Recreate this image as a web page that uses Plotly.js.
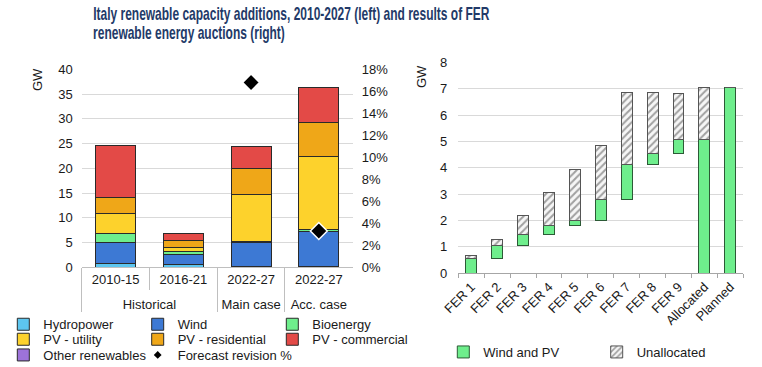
<!DOCTYPE html>
<html>
<head>
<meta charset="utf-8">
<script src="https://cdn.plot.ly/plotly-3.0.1.min.js"></script>
<style>html,body{margin:0;padding:0;background:#fff;}#chart{width:762px;height:367px;}</style>
</head>
<body>
<div id="chart"></div>
<script>
// ---- Left chart data (GW) ----
const groups = ['Historical', 'Historical', 'Main case', 'Acc. case'];
const periods = ['2010-15', '2016-21', '2022-27', '2022-27'];
const hydropower = [0.8, 0.5, 0.1, 0.1];
const wind = [4.2, 2.1, 4.9, 7.2];
const bioenergy = [1.9, 0.6, 0.3, 0.25];
const pvUtility = [3.9, 0.8, 9.45, 14.85];
const pvResidential = [3.3, 1.45, 5.15, 6.8];
const pvCommercial = [10.5, 1.4, 4.5, 7.1];
const otherRenewables = [0.1, 0.05, 0.05, 0.05];
const forecastRevision = [null, null, 16.8, 3.3]; // %

// ---- Right chart data (GW) ----
const auctions = ['FER 1', 'FER 2', 'FER 3', 'FER 4', 'FER 5', 'FER 6', 'FER 7', 'FER 8', 'FER 9', 'Allocated', 'Planned'];
const windPvBase = [0, 0.57, 1.05, 1.48, 1.83, 2.02, 2.78, 4.13, 4.55, 0, 0];
const windPv = [0.57, 0.48, 0.43, 0.35, 0.19, 0.76, 1.33, 0.42, 0.51, 5.06, 7.04];
const unallocated = [0.09, 0.25, 0.71, 1.25, 1.91, 2.07, 2.75, 2.31, 1.75, 1.98, 0];
const unallocatedBase = windPvBase.map((b, i) => b + windPv[i]);

const titleLines = ['Italy renewable capacity additions, 2010-2027 (left) and results of FER',
                    'renewable energy auctions (right)'];

const W = 762, H = 367;
const px = v => v / W;
const py = v => 1 - v / H;
const FONT = 'Liberation Sans, Arial, sans-serif';
const TXT = '#1a1a1a';
const outline = {color: '#2a2a2a', width: 1};

const xMulti = [groups, periods];
function stackTrace(name, vals, color, legend) {
  return {type: 'bar', name: name, x: xMulti, y: vals, xaxis: 'x', yaxis: 'y',
    marker: {color: color, line: outline}, legend: legend, hoverinfo: 'skip'};
}

const traces = [
  stackTrace('Hydropower', hydropower, '#5dc6ef', 'legend'),
  stackTrace('Wind', wind, '#3d79d4', 'legend2'),
  stackTrace('Bioenergy', bioenergy, '#6eee8c', 'legend3'),
  stackTrace('PV - utility', pvUtility, '#fdd22c', 'legend4'),
  stackTrace('PV - residential', pvResidential, '#efa718', 'legend5'),
  stackTrace('PV - commercial', pvCommercial, '#e34a47', 'legend6'),
  stackTrace('Other renewables', otherRenewables, '#9d73d9', 'legend7'),
  {type: 'scatter', mode: 'markers', name: 'Forecast revision %', x: xMulti, y: forecastRevision,
    xaxis: 'x', yaxis: 'y2', marker: {symbol: 'diamond', size: 13, color: '#000', line: {color: '#fff', width: 1.5}},
    showlegend: false, hoverinfo: 'skip'},
  {type: 'scatter', mode: 'markers', name: 'Forecast revision %', x: [null], y: [null],
    xaxis: 'x', yaxis: 'y2', marker: {symbol: 'diamond', size: 6, color: '#000'}, legend: 'legend8', hoverinfo: 'skip'},
  {type: 'bar', name: 'Wind and PV', x: auctions, y: windPv, base: windPvBase, width: 0.42,
    xaxis: 'x2', yaxis: 'y3', marker: {color: '#6eee8c', line: {color: '#2c5a36', width: 1}}, legend: 'legend9', hoverinfo: 'skip'},
  {type: 'bar', name: 'Unallocated', x: auctions, y: unallocated, base: unallocatedBase, width: 0.42,
    xaxis: 'x2', yaxis: 'y3', marker: {color: '#f2f2f2', line: {color: '#555', width: 1},
      pattern: {shape: '/', fgcolor: '#a0a0a0', bgcolor: '#f6f6f6', size: 5, solidity: 0.4}},
    legend: 'legend10', hoverinfo: 'skip'}
];

const tickFont = {family: FONT, size: 13, color: TXT};
function leg(textX, rowY) {
  return {orientation: 'v', xanchor: 'left', yanchor: 'middle', x: px(textX - 40), y: py(rowY),
    font: {family: FONT, size: 13, color: TXT}, bgcolor: 'rgba(0,0,0,0)', itemclick: false};
}
const colX = [43.3, 177.7, 312.3];
const rowY = [324.3, 339.3, 355];

const layout = {
  width: W, height: H,
  margin: {l: 0, r: 0, t: 0, b: 0, autoexpand: false},
  paper_bgcolor: '#fff', plot_bgcolor: '#fff',
  font: {family: FONT, size: 13, color: TXT},
  showlegend: true,
  barmode: 'stack', bargap: 0.41,
  xaxis: {domain: [px(81.7), px(352.7)], anchor: 'y', type: 'multicategory', tickfont: tickFont, automargin: false,
    showline: true, linecolor: '#bfbfbf', linewidth: 1, ticks: 'outside', tickson: 'boundaries', ticklen: 22, tickcolor: '#bfbfbf',
    showdividers: true, dividercolor: '#bfbfbf', dividerwidth: 1, showgrid: false},
  yaxis: {domain: [py(267.3), py(69.3)], anchor: 'x', range: [0, 40], dtick: 5, tickfont: tickFont, automargin: false,
    showgrid: true, gridcolor: '#d9d9d9', gridwidth: 1, zeroline: false, showline: false, ticks: '', ticklabelstandoff: 8},
  yaxis2: {overlaying: 'y', side: 'right', anchor: 'x', range: [0, 18], dtick: 2, ticksuffix: '%', tickfont: tickFont, automargin: false,
    showgrid: false, zeroline: false, showline: false, ticks: '', ticklabelstandoff: 8},
  xaxis2: {domain: [px(458.3), px(743.3)], anchor: 'y3', type: 'category', tickfont: tickFont, tickangle: -45, automargin: false,
    showline: true, linecolor: '#a6a6a6', ticks: 'outside', tickson: 'boundaries', ticklen: 4, tickcolor: '#a6a6a6', showgrid: false},
  yaxis3: {domain: [py(273.3), py(62.3)], anchor: 'x2', range: [0, 8], dtick: 1, tickfont: tickFont, automargin: false,
    showgrid: true, gridcolor: '#d9d9d9', zeroline: false, showline: false, ticks: '', ticklabelstandoff: 10},
  legend: leg(colX[0], rowY[0]),
  legend2: leg(colX[1], rowY[0]),
  legend3: leg(colX[2], rowY[0]),
  legend4: leg(colX[0], rowY[1]),
  legend5: leg(colX[1], rowY[1]),
  legend6: leg(colX[2], rowY[1]),
  legend7: leg(colX[0], rowY[2]),
  legend8: leg(colX[1], rowY[2]),
  legend9: leg(483.3, 352),
  legend10: leg(636.7, 352),
  annotations: [
    {text: titleLines[0], xref: 'paper', yref: 'paper', x: px(90.7), y: py(13.5), showarrow: false,
      xanchor: 'left', yanchor: 'middle', font: {family: FONT, size: 18, weight: 'bold', color: '#233a68'}},
    {text: titleLines[1], xref: 'paper', yref: 'paper', x: px(90.7), y: py(32.5), showarrow: false,
      xanchor: 'left', yanchor: 'middle', font: {family: FONT, size: 18, weight: 'bold', color: '#233a68'}},
    {text: 'GW', xref: 'paper', yref: 'paper', x: px(37), y: py(80), textangle: -90, showarrow: false,
      font: {family: FONT, size: 13, color: TXT}, xanchor: 'center', yanchor: 'middle'},
    {text: 'GW', xref: 'paper', yref: 'paper', x: px(421), y: py(77), textangle: -90, showarrow: false,
      font: {family: FONT, size: 13, color: TXT}, xanchor: 'center', yanchor: 'middle'}
  ]
};

Plotly.newPlot('chart', traces, layout, {staticPlot: true, displayModeBar: false}).then(function (gd) {
  // Condensed headline: squeeze the title lines horizontally to the reference width
  try {
    const t0 = gd.querySelector('g.annotation[data-index="0"] text.annotation-text');
    const t1 = gd.querySelector('g.annotation[data-index="1"] text.annotation-text');
    const b0 = t0.getBBox();
    const s = 396.6 / b0.width;
    [t0, t1].forEach(function (t) {
      const b = t.getBBox();
      t.setAttribute('transform', 'translate(' + b.x + ',0) scale(' + s + ',1) translate(' + (-b.x) + ',0)');
    });
  } catch (e) {}
  // Give the group labels a little more room below the period labels
  try {
    gd.querySelectorAll('g.xtick2 text').forEach(function (t) {
      t.setAttribute('transform', (t.getAttribute('transform') || '') + ' translate(0,8)');
    });
    gd.querySelectorAll('path.xdivider').forEach(function (p) {
      const d = p.getAttribute('d');
      p.setAttribute('d', d.replace(/v(-?[\d.]+)/, function (m, n) { return 'v' + (parseFloat(n) + 8); }));
    });
  } catch (e) {}
});
</script>
</body>
</html>
